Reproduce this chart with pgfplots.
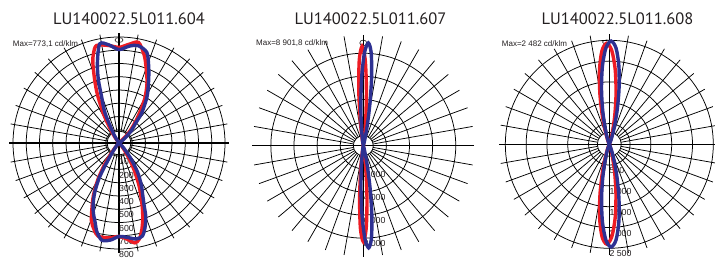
\documentclass[border=0pt]{standalone}
\usepackage{fontspec}
\setmainfont{Liberation Sans}
\newfontfamily\titlefont{PT Sans}
\usepackage{pgfplots}
\pgfplotsset{compat=1.18}
\definecolor{cred}{RGB}{237,28,36}
\definecolor{cblue}{RGB}{46,49,146}
\definecolor{ctext}{RGB}{35,31,32}
\tikzset{ringl/.style={black, line width=0.75bp},
  lab/.style={anchor=north west, inner sep=0pt, yshift=-2.2bp, text=ctext, font=\fontsize{8.8bp}{9bp}\selectfont}}
\pgfplotsset{
  polgrid/.style={hide axis, clip=false, anchor=center},
  gridl/.style={black, line width=0.75bp, data cs=polar},
  gridm/.style={black, line width=1.1bp, data cs=polar},
  cR/.style={cred, line width=3.4bp, smooth, data cs=polar},
  cB/.style={cblue, line width=3.4bp, smooth, data cs=polar},
}
\begin{document}
\begin{tikzpicture}
% small luminaire icons at the top of each diagram
\draw[ctext, line width=0.6bp] (119bp,218bp) ellipse [x radius=4bp, y radius=2.5bp];
\draw[ctext, line width=0.6bp] (363.3bp,215bp) ellipse [x radius=3.5bp, y radius=3bp];
\draw[ctext, line width=0.6bp] (606.5bp,216bp) ellipse [x radius=4bp, y radius=2bp];
% ---------------- chart 1 ----------------
\begin{axis}[polgrid, at={(119bp,115bp)}, x=0.1325bp, y=0.1325bp,
  xmin=-830, xmax=830, ymin=-830, ymax=830]
\pgfplotsinvokeforeach{100,200,...,800}{\draw[ringl] (axis cs:0,0) circle[radius=#1];}
\draw[ringl] (axis cs:0,0) circle[radius=90];
\pgfplotsinvokeforeach{0,10,...,350}{\addplot[gridl] coordinates {(#1,90) (#1,830)};}
\addplot[gridm] coordinates {(0,830) (180,830)};
\addplot[gridm] coordinates {(90,830) (270,830)};
\pgfplotsinvokeforeach{100,200,...,800}{\node[lab] at (axis cs:0,-#1) {#1};}
% red C0-C180
\addplot[cR] coordinates {(40,0) (45,80) (50,160) (55,260) (60,390) (65,500) (70,600) (74,690) (79,773) (84,750) (90,722) (96,740) (103,755) (106,700) (108,639) (111,514) (114,400) (118,250) (122,120) (126,40) (130,5) (135,0)};
\addplot[cR] coordinates {(223,0) (228,20) (232,80) (236,190) (240,320) (244,440) (247,520) (250.5,623) (254,680) (257.3,720) (264,720) (270,705) (275,730) (279,763) (282,740) (285,670) (288,580) (291,480) (295,360) (299,240) (303,140) (308,55) (313,12) (318,0)};
% blue C90-C270
\addplot[cB] coordinates {(30,0) (35,20) (40,60) (45,130) (50,193) (53,285) (59,412) (65,530) (69,624) (73,716) (79,749) (84,735) (90,705) (96,745) (101,762) (105,629) (108,506) (110.5,377) (115,250) (120,86) (125,20) (130,0)};
\addplot[cB] coordinates {(218,0) (223,5) (228,25) (232,50) (236,115) (239,230) (241,323) (244,420) (247,500) (250,565) (253,620) (256,690) (260,745) (265,735) (270,705) (275,715) (280,735) (284,725) (287,670) (290,590) (292,505) (295,420) (298,360) (302.5,260) (307,150) (312,60) (317,15) (322,0)};
\end{axis}
% ---------------- chart 2 ----------------
\begin{axis}[polgrid, at={(363.3bp,112.3bp)}, x=0.01156bp, y=0.01156bp,
  xmin=-9600, xmax=9600, ymin=-9600, ymax=9600]
\pgfplotsinvokeforeach{2000,4000,6000,8000}{\draw[ringl] (axis cs:0,0) circle[radius=#1];}
\draw[ringl] (axis cs:0,0) circle[radius=865];
\pgfplotsinvokeforeach{0,10,...,350}{\addplot[gridl] coordinates {(#1,865) (#1,9600)};}
\addplot[gridm] coordinates {(0,9600) (180,9600)};
\addplot[gridm] coordinates {(90,9600) (270,9600)};
\node[lab] at (axis cs:0,-2000) {2 000};
\node[lab] at (axis cs:0,-4000) {4 000};
\node[lab] at (axis cs:0,-6000) {6 000};
\node[lab] at (axis cs:0,-8000) {8 000};
\addplot[cR] coordinates {(72.7,0) (76.7,6) (78.7,42) (80.7,213) (82.7,807) (84.7,2270) (86.7,4756) (88.7,7413) (90.7,8600) (92.7,7413) (94.7,4756) (96.7,2270) (98.7,807) (100.7,213) (102.7,42) (104.7,6) (108.7,0)};
\addplot[cR] coordinates {(252,0) (256,6) (258,41) (260,206) (262,779) (264,2191) (266,4590) (268,7155) (270,8300) (272,7155) (274,4590) (276,2191) (278,779) (280,206) (282,41) (284,6) (288,0)};
\addplot[cB] coordinates {(67.2,0) (71.2,20) (73.2,86) (75.2,294) (77.2,837) (79.2,1958) (81.2,3800) (83.2,6097) (85.2,8099) (87.2,8900) (89.2,8099) (91.2,6097) (93.2,3800) (95.2,1958) (97.2,837) (99.2,294) (101.2,86) (103.2,20) (107.2,0)};
\addplot[cB] coordinates {(253,0) (257,20) (259,86) (261,292) (263,832) (265,1947) (267,3779) (269,6062) (271,8054) (273,8850) (275,8054) (277,6062) (279,3779) (281,1947) (283,832) (285,292) (287,86) (289,20) (293,0)};
\end{axis}
% ---------------- chart 3 ----------------
\begin{axis}[polgrid, at={(609.3bp,113.7bp)}, x=0.0416bp, y=0.0416bp,
  xmin=-2650, xmax=2650, ymin=-2650, ymax=2650]
\pgfplotsinvokeforeach{500,1000,...,2500}{\draw[ringl] (axis cs:0,0) circle[radius=#1];}
\draw[ringl] (axis cs:0,0) circle[radius=288];
\pgfplotsinvokeforeach{0,10,...,350}{\addplot[gridl] coordinates {(#1,288) (#1,2650)};}
\addplot[gridm] coordinates {(0,2650) (180,2650)};
\addplot[gridm] coordinates {(90,2650) (270,2650)};
\node[lab] at (axis cs:0,-500) {500};
\node[lab] at (axis cs:0,-1000) {1 000};
\node[lab] at (axis cs:0,-1500) {1 500};
\node[lab] at (axis cs:0,-2000) {2 000};
\node[lab] at (axis cs:0,-2500) {2 500};
\addplot[cR] coordinates {(61.5,0) (64.5,6) (67.5,21) (70.5,63) (73.5,167) (76.5,379) (79.5,739) (82.5,1244) (85.5,1805) (88.5,2255) (91.5,2430) (94.5,2255) (97.5,1805) (100.5,1244) (103.5,739) (106.5,379) (109.5,167) (112.5,63) (115.5,21) (118.5,6) (121.5,0)};
\addplot[cR] coordinates {(238.5,0) (241.5,6) (244.5,21) (247.5,63) (250.5,165) (253.5,374) (256.5,730) (259.5,1229) (262.5,1783) (265.5,2227) (268.5,2400) (271.5,2227) (274.5,1783) (277.5,1229) (280.5,730) (283.5,374) (286.5,165) (289.5,63) (292.5,21) (295.5,6) (298.5,0)};
\addplot[cB] coordinates {(56,0) (59,3) (62,10) (65,32) (68,88) (71,214) (74,452) (77,836) (80,1345) (83,1891) (86,2318) (89,2482) (92,2318) (95,1891) (98,1345) (101,836) (104,452) (107,214) (110,88) (113,32) (116,10) (119,3) (122,0)};
\addplot[cB] coordinates {(238,0) (241,3) (244,10) (247,32) (250,88) (253,213) (256,450) (259,832) (262,1339) (265,1882) (268,2307) (271,2470) (274,2307) (277,1882) (280,1339) (283,832) (286,450) (289,213) (292,88) (295,32) (298,10) (301,3) (304,0)};
\end{axis}
% ---------------- texts ----------------
\begin{scope}[every node/.style={text=ctext, inner sep=0pt}]
\node[anchor=base, font=\titlefont\fontsize{16.5bp}{18bp}\selectfont] at (129bp,233bp) {LU140022.5L011.604};
\node[anchor=base, font=\titlefont\fontsize{16.5bp}{18bp}\selectfont] at (370.5bp,233bp) {LU140022.5L011.607};
\node[anchor=base, font=\titlefont\fontsize{16.5bp}{18bp}\selectfont] at (617.5bp,233bp) {LU140022.5L011.608};
\node[anchor=west, font=\fontsize{8bp}{9bp}\selectfont] at (12.7bp,214bp) {Max=773,1 cd/klm};
\node[anchor=west, font=\fontsize{8bp}{9bp}\selectfont] at (256bp,215bp) {Max=8 901,8 cd/klm};
\node[anchor=west, font=\fontsize{8bp}{9bp}\selectfont] at (501.7bp,214bp) {Max=2 482 cd/klm};
\end{scope}
\pgfresetboundingbox
\path[use as bounding box] (0,0) rectangle (715bp,258bp);
\end{tikzpicture}
\end{document}
